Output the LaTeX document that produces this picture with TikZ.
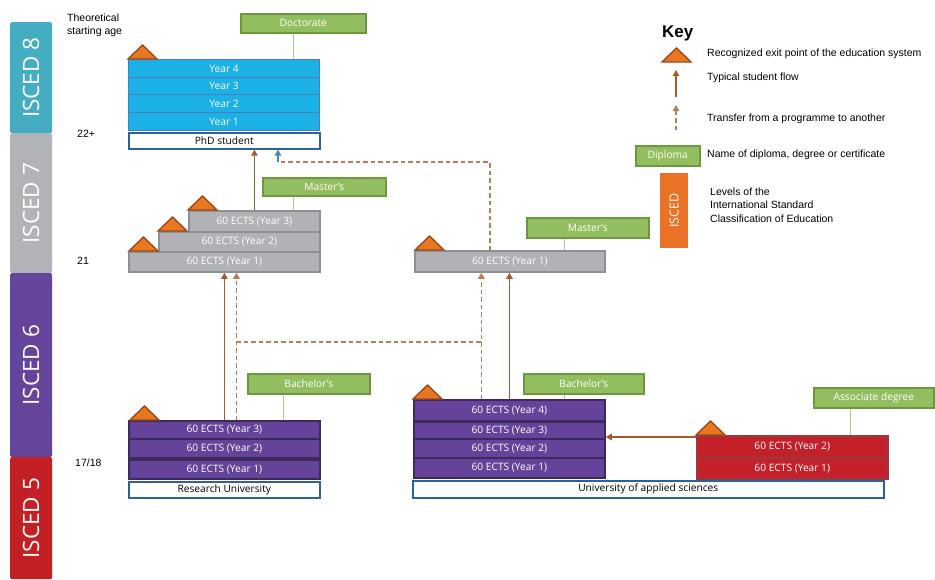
\documentclass[tikz,border=0pt]{standalone}
\usepackage{fontspec}
\setmainfont{Liberation Sans}
\newfontfamily\segoe{Open Sans}
\usetikzlibrary{arrows.meta}
\usetikzlibrary{positioning}

\definecolor{iscedteal}{RGB}{69,173,194}
\definecolor{iscedgray}{RGB}{178,179,182}
\definecolor{iscedpurple}{RGB}{101,68,155}
\definecolor{iscedred}{RGB}{195,32,38}
\definecolor{yearcyan}{RGB}{27,176,230}
\definecolor{yearblue}{RGB}{74,126,187}
\definecolor{ectsgray}{RGB}{177,178,182}
\definecolor{ectsgrayline}{RGB}{142,143,146}
\definecolor{ectspurple}{RGB}{101,67,154}
\definecolor{ectspurpleline}{RGB}{60,42,92}
\definecolor{ectsred}{RGB}{195,32,42}
\definecolor{ectsredline}{RGB}{150,58,62}
\definecolor{diplgreen}{RGB}{147,190,95}
\definecolor{diplgreenline}{RGB}{110,152,64}
\definecolor{dipllink}{RGB}{168,208,141}
\definecolor{flowbrown}{RGB}{166,90,46}
\definecolor{exitorange}{RGB}{232,119,34}
\definecolor{exitline}{RGB}{156,74,26}
\definecolor{whiteline}{RGB}{46,98,147}
\definecolor{keyorange}{RGB}{234,113,37}
\definecolor{transferblue}{RGB}{74,134,200}

\tikzset{
    block/.style={anchor=north west, inner sep=0pt, text=white,
        font=\segoe\fontsize{10.2}{12}\selectfont},
    yearrow/.style={block, fill=yearcyan, draw=yearblue, line width=1.2pt},
    grayblock/.style={block, fill=ectsgray, draw=ectsgrayline, line width=1.8pt},
    purpleblock/.style={block, fill=ectspurple, draw=ectspurpleline, line width=1.8pt},
    redblock/.style={block, fill=ectsred, draw=ectsredline, line width=1.5pt},
    whitebox/.style={block, fill=white, text=black, draw=whiteline, line width=1.6pt},
    diploma/.style={block, fill=diplgreen, draw=diplgreenline, line width=1.6pt},
    dipline/.style={draw=dipllink, line width=1pt},
    iscedbar/.style={anchor=north west, inner sep=0pt, text=white, rounded corners=1.5pt,
        minimum width=42pt, font=\segoe\fontsize{22.5}{26}\selectfont},
    exitmark/.style={fill=exitorange, draw=exitline, line width=1.4pt, line join=miter},
    flow/.style={draw=flowbrown, line width=1.5pt, -{Triangle[width=6.5pt,length=6pt]}},
    transfer/.style={draw=flowbrown!80, line width=1.5pt, dash pattern=on 4.5pt off 3pt},
    keytext/.style={anchor=west, inner sep=0pt, font=\fontsize{10.5}{13.5}\selectfont, align=left}
}

\begin{document}
\begin{tikzpicture}[x=1pt, y=-1pt]
    \useasboundingbox (0,0) rectangle (935,579);

    % ISCED levels
    \node[iscedbar, fill=iscedteal, minimum height=111pt] (isced8) at (10,22) {\rotatebox{90}{ISCED 8}};
    \node[iscedbar, fill=iscedgray, minimum height=140pt] (isced7) at (10,133) {\rotatebox{90}{ISCED 7}};
    \node[iscedbar, fill=iscedpurple, minimum height=184pt] (isced6) at (10,273) {\rotatebox{90}{ISCED 6}};
    \node[iscedbar, fill=iscedred, minimum height=122pt] (isced5) at (10,457) {\rotatebox{90}{ISCED 5}};

    % starting ages
    \node[anchor=north west, inner sep=0pt, align=left, font=\fontsize{10.5}{12.5}\selectfont] (agetitle) at (67,14) {Theoretical\\starting age};
    \node[keytext] (age22) at (77,134) {22+};
    \node[keytext] (age21) at (77,261) {21};
    \node[keytext] (age17) at (75,463) {17/18};

    % doctorate
    \node[diploma, minimum width=125pt, minimum height=19pt] (doct) at (240,13) {Doctorate};
    \node[yearrow, minimum width=191pt, minimum height=18pt] (phd4) at (128,59) {Year 4};
    \node[yearrow, minimum width=191pt, minimum height=17pt] (phd3) at (128,77) {Year 3};
    \node[yearrow, minimum width=191pt, minimum height=18pt] (phd2) at (128,94) {Year 2};
    \node[yearrow, minimum width=191pt, minimum height=18pt] (phd1) at (128,112) {Year 1};
    \node[whitebox, minimum width=191pt, minimum height=16pt] (phd) at (128,132) {PhD student};

    % research university
    \node[diploma, minimum width=123pt, minimum height=18pt] (rmast) at (262,177) {Master’s};
    \node[grayblock, minimum width=131pt, minimum height=21pt] (rm3) at (188,210) {60 ECTS (Year 3)};
    \node[grayblock, minimum width=161pt, minimum height=20pt] (rm2) at (158,231) {60 ECTS (Year 2)};
    \node[grayblock, minimum width=191pt, minimum height=20pt] (rm1) at (128,251) {60 ECTS (Year 1)};

    \node[diploma, minimum width=122pt, minimum height=20pt] (rbach) at (247,373) {Bachelor’s};
    \node[purpleblock, minimum width=191pt, minimum height=18pt] (rb3) at (128,420) {60 ECTS (Year 3)};
    \node[purpleblock, minimum width=191pt, minimum height=19pt] (rb2) at (128,438) {60 ECTS (Year 2)};
    \node[purpleblock, minimum width=191pt, minimum height=19pt] (rb1) at (128,459) {60 ECTS (Year 1)};
    \node[whitebox, minimum width=191pt, minimum height=16pt] (runi) at (128,481) {Research University};

    % university of applied sciences
    \node[diploma, minimum width=122pt, minimum height=20pt] (amast) at (526,217) {Master’s};
    \node[grayblock, minimum width=190pt, minimum height=21pt] (am1) at (414,250) {60 ECTS (Year 1)};

    \node[diploma, minimum width=120pt, minimum height=20pt] (abach) at (523,373) {Bachelor’s};
    \node[purpleblock, minimum width=191pt, minimum height=21pt] (ab4) at (413,399) {60 ECTS (Year 4)};
    \node[purpleblock, minimum width=191pt, minimum height=17pt] (ab3) at (413,421) {60 ECTS (Year 3)};
    \node[purpleblock, minimum width=191pt, minimum height=19pt] (ab2) at (413,438) {60 ECTS (Year 2)};
    \node[purpleblock, minimum width=191pt, minimum height=20pt] (ab1) at (413,457) {60 ECTS (Year 1)};
    \node[whitebox, minimum width=471pt, minimum height=17pt] (uas) at (412,480) {University of applied sciences};

    \node[diploma, minimum width=120pt, minimum height=20pt] (assoc) at (813,387) {Associate degree};
    \node[redblock, minimum width=191pt, minimum height=22pt] (as2) at (696,435) {60 ECTS (Year 2)};
    \node[redblock, minimum width=191pt, minimum height=21pt] (as1) at (696,457) {60 ECTS (Year 1)};

    % diploma links
    \draw[dipline] ([xshift=-9.5pt]doct.south) -- ([xshift=-9.5pt]doct.south |- phd4.north);
    \draw[dipline] ([xshift=-30.5pt]rmast.south) -- ([xshift=-30.5pt]rmast.south |- rm3.north);
    \draw[dipline] ([xshift=-23pt]amast.south) -- ([xshift=-23pt]amast.south |- am1.north);
    \draw[dipline] ([xshift=-25pt]rbach.south) -- ([xshift=-25pt]rbach.south |- rb3.north);
    \draw[dipline] ([xshift=-19pt]abach.south) -- ([xshift=-19pt]abach.south |- ab4.north);
    \draw[dipline] ([xshift=-23pt]assoc.south) -- ([xshift=-23pt]assoc.south |- as2.north);

    % student flows
    \coordinate (phdin) at (278,162);
    \coordinate (cross) at (0,342);
    \draw[transfer] ([xshift=-20pt]am1.north) |- (phdin);
    \draw[draw=transferblue, line width=1.5pt, -{Triangle[width=6.5pt,length=6pt]}] (phdin) -- (phdin |- phd.south);
    \draw[flow] (rm3.north) -- (rm3.north |- phd.south);
    \draw[flow] (rb3.north) -- (rb3.north |- rm1.south);
    \draw[transfer, -{Triangle[width=6.5pt,length=6pt]}] ([xshift=12pt]rb3.north) -- ([xshift=12pt]rb3.north |- rm1.south);
    \draw[transfer] ([xshift=12pt]rb3.north |- cross) -- ([xshift=-28pt]ab4.north |- cross);
    \draw[transfer, -{Triangle[width=6.5pt,length=6pt]}] ([xshift=-28pt]ab4.north) -- ([xshift=-28pt]ab4.north |- am1.south);
    \draw[flow] (ab4.north) -- (ab4.north |- am1.south);
    \draw[flow] ([yshift=-2pt]as2.north west) -- ([yshift=-2pt]as2.north west -| ab3.east);

    % exit points
    \foreach \x/\y in {128/59, 188/210, 158/231, 129/251, 415/250, 130/420, 413/399, 696/435, 662/62}
        \draw[exitmark] (\x,\y) -- ++(14.5,-14) -- ++(14.5,14) -- cycle;

    % key
    \node[anchor=west, inner sep=0pt, font=\bfseries\fontsize{17}{20}\selectfont] (keytitle) at (662,33) {Key};
    \node[keytext] (keyexit) at (707,54) {Recognized exit point of the education system};
    \node[keytext] (keyflow) at (707,78) {Typical student flow};
    \node[keytext] (keytransfer) at (707,119) {Transfer from a programme to another};
    \node[diploma, minimum width=64pt, minimum height=20pt] (keydipl) at (635,145) {Diploma};
    \node[keytext] (keydipltext) at (707,155) {Name of diploma, degree or certificate};
    \node[anchor=north west, inner sep=0pt, fill=keyorange, text=white, minimum width=28pt, minimum height=75pt,
        font=\segoe\fontsize{12.5}{14}\selectfont] (keyisced) at (660,173) {\rotatebox{90}{ISCED}};
    \node[keytext] (keyiscedtext) at (710,205) {Levels of the\\International Standard\\Classification of Education};
    \coordinate (flowfoot) at (676,97);
    \coordinate (flowhead) at (676,70);
    \coordinate (transferfoot) at (676,130);
    \coordinate (transferhead) at (676,105);
    \draw[flow] (flowfoot) -- (flowhead);
    \draw[transfer, -{Triangle[width=6.5pt,length=6pt]}] (transferfoot) -- (transferhead);
\end{tikzpicture}
\end{document}
